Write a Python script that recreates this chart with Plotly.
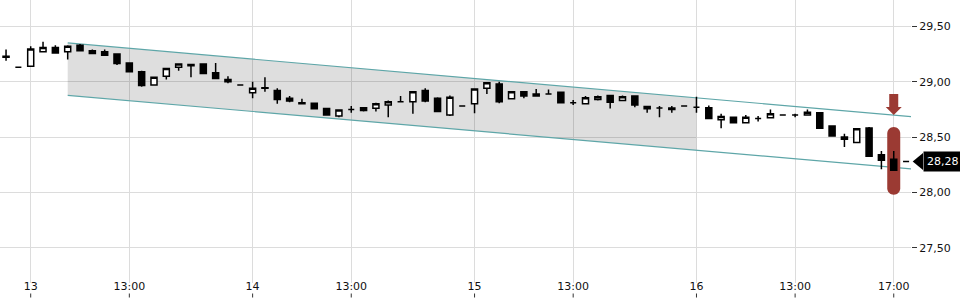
import plotly.graph_objects as go

# ---------------- data ----------------
# 30-minute candles, index 0..73 (day 12 17:00 -> day 16 17:30)
opens = [29.23, 29.13, 29.14, 29.27, 29.31, 29.27, 29.33, 29.28, 29.27, 29.25,
         29.17, 29.09, 28.97, 29.05, 29.13, 29.155, 29.16, 29.08, 29.02, 28.97,
         28.90, 28.945, 28.92, 28.85, 28.81, 28.805, 28.757, 28.69, 28.75, 28.765,
         28.76, 28.79, 28.82, 28.82, 28.92, 28.85, 28.70, 28.78, 28.80, 28.94,
         28.98, 28.845, 28.91, 28.87, 28.89, 28.905, 28.81, 28.80, 28.84, 28.875,
         28.83, 28.87, 28.775, 28.763, 28.763, 28.78, 28.77, 28.765, 28.657, 28.68,
         28.63, 28.667, 28.675, 28.70, 28.70, 28.70, 28.72, 28.60, 28.50, 28.45,
         28.583, 28.34, 28.30, 28.28]
highs = [29.29, 29.13, 29.32, 29.36, 29.33, 29.33, 29.34, 29.29, 29.29, 29.25,
         29.17, 29.10, 29.04, 29.12, 29.16, 29.155, 29.16, 29.17, 29.05, 28.97,
         29.00, 29.04, 28.94, 28.87, 28.845, 28.805, 28.757, 28.745, 28.78, 28.77,
         28.81, 28.83, 28.87, 28.91, 28.94, 28.86, 28.875, 28.78, 28.935, 28.99,
         29.00, 28.91, 28.91, 28.935, 28.93, 28.905, 28.835, 28.87, 28.875, 28.875,
         28.875, 28.87, 28.775, 28.78, 28.78, 28.78, 28.865, 28.786, 28.71, 28.68,
         28.70, 28.69, 28.75, 28.70, 28.71, 28.75, 28.72, 28.60, 28.53, 28.575,
         28.59, 28.375, 28.375, 28.28]
lows = [29.19, 29.13, 29.14, 29.27, 29.26, 29.20, 29.28, 29.25, 29.24, 29.15,
        29.09, 28.955, 28.97, 29.02, 29.10, 29.04, 29.075, 29.03, 28.985, 28.97,
        28.85, 28.91, 28.80, 28.815, 28.80, 28.755, 28.70, 28.68, 28.72, 28.73,
        28.73, 28.68, 28.82, 28.71, 28.815, 28.73, 28.69, 28.78, 28.715, 28.89,
        28.805, 28.845, 28.85, 28.87, 28.89, 28.81, 28.79, 28.80, 28.83, 28.757,
        28.83, 28.77, 28.72, 28.68, 28.72, 28.78, 28.72, 28.667, 28.58, 28.63,
        28.63, 28.64, 28.675, 28.70, 28.68, 28.70, 28.58, 28.51, 28.41, 28.45,
        28.327, 28.21, 28.20, 28.28]
closes = [29.22, 29.13, 29.295, 29.31, 29.26, 29.32, 29.28, 29.255, 29.24, 29.165,
          29.09, 28.965, 29.04, 29.12, 29.16, 29.145, 29.075, 29.03, 29.00, 28.97,
          28.94, 28.94, 28.84, 28.825, 28.80, 28.755, 28.70, 28.745, 28.75, 28.74,
          28.80, 28.82, 28.82, 28.91, 28.825, 28.73, 28.86, 28.78, 28.935, 28.99,
          28.82, 28.91, 28.87, 28.89, 28.89, 28.81, 28.81, 28.855, 28.865, 28.815,
          28.865, 28.79, 28.755, 28.763, 28.75, 28.78, 28.77, 28.667, 28.685, 28.63,
          28.68, 28.667, 28.71, 28.70, 28.70, 28.725, 28.58, 28.51, 28.48, 28.575,
          28.327, 28.29, 28.20, 28.28]
idx = list(range(len(opens)))

x_tick_vals = [2, 10, 20, 28, 38, 46, 56, 64, 72]
x_tick_text = ["13", "13:00", "14", "13:00", "15", "13:00", "16", "13:00", "17:00"]
y_tick_vals = [27.5, 28.0, 28.5, 29.0, 29.5]

# trend channel (start index, end index, upper values, lower values, fill end index)
channel_x = [5, 73.6]
channel_upper = [29.35, 28.683]
channel_lower = [28.877, 28.21]
channel_fill_end = 56

# highlight of last candle
highlight_idx = 72
highlight_top = 28.59
highlight_bottom = 27.98
last_price = 28.28

# ---------------- layout constants ----------------
W, H = 960, 300
ML, MR, MT, MB = 0, 49, 0, 17
X_RANGE = [-0.49, 73.4]
Y_RANGE = [27.182, 29.738]
plot_w = W - ML - MR
plot_h = H - MT - MB
px_x = (X_RANGE[1] - X_RANGE[0]) / plot_w   # data units per pixel
px_y = (Y_RANGE[1] - Y_RANGE[0]) / plot_h

FONT = "DejaVu Sans"
GRID = "#dcdcdc"
TEAL = "#5ea6a8"
RED = "#9b3a33"

fig = go.Figure()

fig.add_trace(go.Candlestick(
    x=idx, open=opens, high=highs, low=lows, close=closes,
    increasing=dict(line=dict(color="#000000", width=1.5), fillcolor="#ffffff"),
    decreasing=dict(line=dict(color="#000000", width=1.5), fillcolor="#000000"),
    whiskerwidth=0, hoverinfo="skip", showlegend=False,
))

shapes = []

# channel fill
def lerp(vals, x):
    x0, x1 = channel_x
    return vals[0] + (vals[1] - vals[0]) * (x - x0) / (x1 - x0)

fx0, fx1 = channel_x[0], channel_fill_end
path = (f"M {fx0},{lerp(channel_upper, fx0)} L {fx1},{lerp(channel_upper, fx1)} "
        f"L {fx1},{lerp(channel_lower, fx1)} L {fx0},{lerp(channel_lower, fx0)} Z")
shapes.append(dict(type="path", path=path, xref="x", yref="y",
                   fillcolor="rgba(0,0,0,0.13)", line=dict(width=0), layer="between"))
for vals in (channel_upper, channel_lower):
    shapes.append(dict(type="line", xref="x", yref="y",
                       x0=channel_x[0], y0=vals[0], x1=channel_x[1], y1=vals[1],
                       line=dict(color=TEAL, width=1.2), layer="between"))

# rounded highlight bar
w = 6.5 * px_x
r = 6.5 * px_y
k = 0.5523
xc = highlight_idx
xl, xr = xc - w, xc + w
t, b = highlight_top, highlight_bottom
bar = (f"M {xl},{t - r} C {xl},{t - r + k * r} {xc - k * w},{t} {xc},{t} "
       f"C {xc + k * w},{t} {xr},{t - r + k * r} {xr},{t - r} "
       f"L {xr},{b + r} C {xr},{b + r - k * r} {xc + k * w},{b} {xc},{b} "
       f"C {xc - k * w},{b} {xl},{b + r - k * r} {xl},{b + r} Z")
shapes.append(dict(type="path", path=bar, xref="x", yref="y",
                   fillcolor=RED, line=dict(width=0), layer="between"))

# arrow above highlight
a_top = highlight_top + 33 * px_y
a_neck = highlight_top + 20 * px_y
a_tip = highlight_top + 12 * px_y
sw = 4.5 * px_x
hw = 8 * px_x
arrow = (f"M {xc - sw},{a_top} L {xc + sw},{a_top} L {xc + sw},{a_neck} L {xc + hw},{a_neck} "
         f"L {xc},{a_tip} L {xc - hw},{a_neck} L {xc - sw},{a_neck} Z")
shapes.append(dict(type="path", path=arrow, xref="x", yref="y",
                   fillcolor=RED, line=dict(width=0), layer="above"))

# x tick marks under the labels
for tv in x_tick_vals:
    shapes.append(dict(type="line", xref="x", yref="paper",
                       x0=tv, x1=tv, y0=-10.5 / plot_h, y1=-14.5 / plot_h,
                       line=dict(color="#333333", width=1)))

# last price pointer
tip_x = 1 + 1.7 / plot_w
base_x = 1 + 12 / plot_w
hh = 8.5 * px_y
shapes.append(dict(type="path", xref="paper", yref="y",
                   path=f"M {tip_x},{last_price} L {base_x},{last_price + hh} "
                        f"L {base_x},{last_price - hh} Z",
                   fillcolor="#000000", line=dict(width=0), layer="above"))

fig.add_annotation(x=1, xref="paper", y=last_price, yref="y",
                   xanchor="left", xshift=11.5, yanchor="middle",
                   text=f"{last_price:.2f}".replace(".", ","), showarrow=False,
                   bgcolor="#000000", borderpad=3,
                   font=dict(family=FONT, size=11, color="#ffffff"))

fig.update_layout(
    width=W, height=H,
    margin=dict(l=ML, r=MR, t=MT, b=MB),
    paper_bgcolor="#ffffff", plot_bgcolor="#ffffff",
    font=dict(family=FONT, size=11, color="#111111"),
    separators=",.",
    shapes=shapes,
    showlegend=False,
    xaxis=dict(range=X_RANGE, rangeslider=dict(visible=False),
               tickvals=x_tick_vals, ticktext=x_tick_text, ticks="",
               ticklabelstandoff=-5,
               showgrid=True, gridcolor=GRID, gridwidth=1, zeroline=False,
               showline=False, tickfont=dict(size=11, color="#111111")),
    yaxis=dict(range=Y_RANGE, side="right", tickvals=y_tick_vals, tickformat=".2f",
               ticks="outside", ticklen=5, tickcolor="#333333",
               showgrid=True, gridcolor=GRID, gridwidth=1, zeroline=False,
               showline=False, tickfont=dict(size=11, color="#111111")),
)

fig.write_html("out.html")
